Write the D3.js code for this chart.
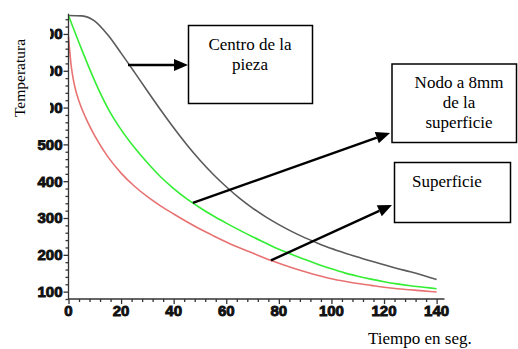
<!DOCTYPE html>
<html>
<head>
<meta charset="utf-8">
<script src="https://cdn.jsdelivr.net/npm/d3@7"></script>
<style>
  html, body { margin: 0; padding: 0; background: #fff; }
  svg { display: block; }
  .tick-label { font-family: "Liberation Sans", Arial, sans-serif; font-weight: bold; font-size: 15px; fill: #111; stroke: #111; stroke-width: 0.9px; }
  .serif { font-family: "Liberation Serif", "DejaVu Serif", serif; font-size: 17px; fill: #000; }
</style>
</head>
<body>
<svg id="chart" width="518" height="349"></svg>
<script>
// Cooling curves: temperature vs time at three positions in the part
const tiempo = [0, 5, 10, 15, 20, 25, 30, 35, 40, 45, 50, 55, 60, 65, 70, 75, 80, 85, 90, 95, 100, 105, 110, 115, 120, 125, 130, 135, 140];

const centro = [850, 849, 835, 797, 748, 697, 645, 594, 545, 499, 457, 419, 385, 354, 327, 303, 282, 263, 246, 231, 217, 205, 194, 183, 173, 163, 154, 144, 133];

const nodo8mm = [850, 758, 672, 598, 540, 492, 450, 412, 380, 352, 328, 306, 286, 267, 249, 232, 215, 201, 187, 174, 162, 151, 142, 134, 127, 121, 116, 112, 108];

// Surface cools fastest; its first seconds are sampled more finely
const superficieT = [0, 1, 2, 3, 5, 7.5, 10, 15, 20, 25, 30, 35, 40, 45, 50, 55, 60, 65, 70, 75, 80, 85, 90, 95, 100, 105, 110, 115, 120, 125, 130, 135, 140];
const superficie = [792, 715, 670, 640, 598, 558, 523, 466, 422, 387, 358, 333, 311, 290, 270, 252, 235, 219, 205, 190, 177, 165, 154, 144, 135, 128, 122, 117, 112, 108, 105, 102, 99];

const xTicks = [0, 20, 40, 60, 80, 100, 120, 140];
const yTicks = [100, 200, 300, 400, 500, 600, 700, 800];

const svg = d3.select("#chart");

const x = d3.scaleLinear().domain([0, 143]).range([68.5, 444.5]);
const y = d3.scaleLinear().domain([80, 855]).range([299, 13.7]);

// Curves
const line = d3.line().x(d => x(d[0])).y(d => y(d[1])).curve(d3.curveMonotoneX);
const series = [
  { t: tiempo, v: centro, color: "#5a5a5a" },
  { t: tiempo, v: nodo8mm, color: "#33ee33" },
  { t: superficieT, v: superficie, color: "#e87272" }
];
series.forEach(s => {
  svg.append("path")
    .datum(s.t.map((t, i) => [t, s.v[i]]))
    .attr("d", line)
    .attr("fill", "none")
    .attr("stroke", s.color)
    .attr("stroke-width", 1.6);
});

// Axes
const axisColor = "#333";
const yAxis = svg.append("g").attr("transform", `translate(${x(0)},0)`);
yAxis.call(d3.axisLeft(y).tickValues(d3.range(80, 841, 20)).tickSize(3).tickFormat(""));
yAxis.selectAll(".tick").filter(d => d % 100 === 0).select("line").attr("x2", -5);
yAxis.selectAll("line, path").attr("stroke", axisColor).attr("stroke-width", 1.3);
yAxis.select(".domain").attr("d", `M0,${y(80)}V${y(855)}`);

const xAxis = svg.append("g").attr("transform", `translate(0,${y(80)})`);
xAxis.call(d3.axisBottom(x).tickValues(d3.range(0, 141, 4)).tickSize(3).tickFormat(""));
xAxis.selectAll(".tick").filter(d => d % 20 === 0).select("line").attr("y2", 5);
xAxis.selectAll("line, path").attr("stroke", axisColor).attr("stroke-width", 1.3);
xAxis.select(".domain").attr("d", `M${x(0)},0H${x(143)}`);

// Tick labels
svg.append("g").selectAll("text").data(yTicks).join("text")
  .attr("class", "tick-label")
  .attr("x", x(0) - 6)
  .attr("y", d => y(d))
  .attr("dy", "0.36em")
  .attr("text-anchor", "end")
  .text(d => d);

svg.append("g").selectAll("text").data(xTicks).join("text")
  .attr("class", "tick-label")
  .attr("x", d => x(d))
  .attr("y", y(80) + 17)
  .attr("text-anchor", "middle")
  .text(d => d);

// Y title sits on an opaque white text box
svg.append("rect").attr("x", 0).attr("y", 0).attr("width", 50).attr("height", 140).attr("fill", "#fff");
svg.append("text").attr("class", "serif")
  .attr("transform", "translate(25,78) rotate(-90)")
  .attr("text-anchor", "middle")
  .style("font-size", "15.5px")
  .text("Temperatura");

// X title
svg.append("text").attr("class", "serif")
  .attr("x", 368).attr("y", 344)
  .text("Tiempo en seg.");

// Callout boxes
const boxes = [
  { x0: 188.5, y0: 25.5, x1: 312.5, y1: 103.5, lines: ["Centro de la", "pieza"], cx: 250, by: 50, anchor: "middle" },
  { x0: 392, y0: 64, x1: 516.5, y1: 142.5, lines: ["Nodo a 8mm", "de la", "superficie"], cx: 459, by: 88, anchor: "middle" },
  { x0: 394.5, y0: 162.5, x1: 510.5, y1: 222.5, lines: ["Superficie"], cx: 412, by: 187, anchor: "start" }
];
boxes.forEach(b => {
  svg.append("rect")
    .attr("x", b.x0).attr("y", b.y0)
    .attr("width", b.x1 - b.x0).attr("height", b.y1 - b.y0)
    .attr("fill", "#fff").attr("stroke", "#000").attr("stroke-width", 1.5);
  b.lines.forEach((s, i) => {
    svg.append("text").attr("class", "serif")
      .attr("x", b.cx).attr("y", b.by + i * 20)
      .attr("text-anchor", b.anchor)
      .text(s);
  });
});

// Value of a series at time t, for anchoring arrows on the curves
function at(ts, vs, t) {
  return d3.scaleLinear().domain(ts).range(vs)(t);
}

// Arrows from the curves to the boxes
const arrows = [
  { from: [128, 65], to: [188, 65] },
  { from: [x(47.3), y(at(tiempo, nodo8mm, 47.3))], to: [390, 133] },
  { from: [x(77), y(at(superficieT, superficie, 77))], to: [392, 205] }
];
arrows.forEach(a => {
  const [x0, y0] = a.from, [x1, y1] = a.to;
  const ang = Math.atan2(y1 - y0, x1 - x0);
  const len = 14, hw = 6;
  const bx = x1 - len * Math.cos(ang), by = y1 - len * Math.sin(ang);
  svg.append("line")
    .attr("x1", x0).attr("y1", y0).attr("x2", bx).attr("y2", by)
    .attr("stroke", "#000").attr("stroke-width", 2.4);
  const px = -Math.sin(ang) * hw, py = Math.cos(ang) * hw;
  svg.append("path")
    .attr("d", `M${x1},${y1}L${bx + px},${by + py}L${bx - px},${by - py}Z`)
    .attr("fill", "#000");
});
</script>
</body>
</html>
